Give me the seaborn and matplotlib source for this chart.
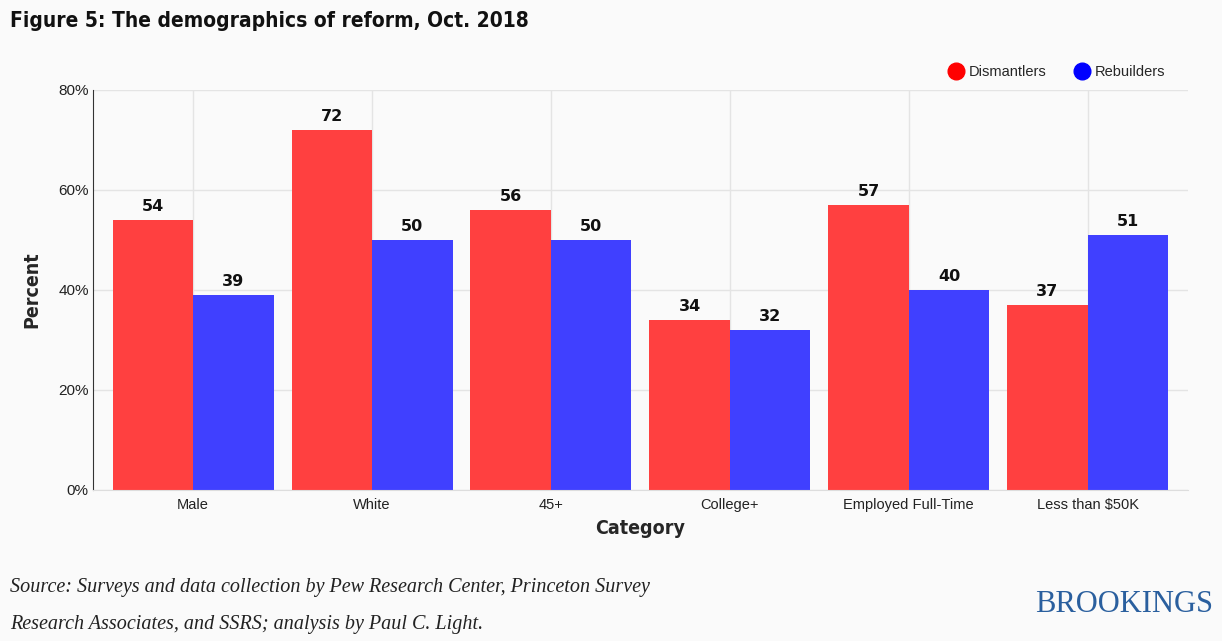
import pandas as pd
import seaborn as sns
import matplotlib.pyplot as plt
from matplotlib.lines import Line2D

#Chart data
categories = ["Male", "White", "45+", "College+", "Employed Full-Time", "Less than $50K"]
dismantlers = [54, 72, 56, 34, 57, 37]
rebuilders = [39, 50, 50, 32, 40, 51]

#Long form table for seaborn
data = pd.DataFrame({
    "Category": categories * 2,
    "Percent": dismantlers + rebuilders,
    "Group": ["Dismantlers"] * len(categories) + ["Rebuilders"] * len(categories),
})

bg = "#fafafa"
sns.set_style("white")
plt.rcParams['font.family'] = ['Liberation Sans', 'DejaVu Sans']

fig = plt.figure(figsize=(12.22, 6.41), dpi=100, facecolor=bg)
ax = fig.add_axes([0.0761, 0.2356, 0.8959, 0.624])
ax.set_facecolor(bg)

sns.barplot(x="Category", y="Percent", hue="Group", data=data, ax=ax,
            palette={"Dismantlers": "#ff4040", "Rebuilders": "#4040ff"},
            width=0.9, gap=0, saturation=1, linewidth=0, legend=False)

#Value labels on top of each bar
for container in ax.containers:
    ax.bar_label(container, fmt="%d", padding=4, fontsize=11.5, fontweight="bold",
                 family="DejaVu Sans", color="#111111")

ax.set_ylim(0, 80)
ax.set_xlim(-0.56, 5.56)
ax.set_yticks([0, 20, 40, 60, 80])
ax.set_yticklabels(["0%", "20%", "40%", "60%", "80%"], fontsize=11, color="#222222")
ax.tick_params(axis="x", labelsize=10.5, colors="#222222", length=0, pad=6)
ax.tick_params(axis="y", length=2, color="#333333", pad=1)
ax.grid(True, color="#e4e4e4", linewidth=1)
ax.set_axisbelow(True)
for side in ["top", "right"]:
    ax.spines[side].set_visible(False)
ax.spines["left"].set_color("#333333")
ax.spines["bottom"].set_color("#dddddd")

ax.set_xlabel("Category", fontsize=14, fontweight="bold", family="DejaVu Sans",
              fontstretch="condensed", labelpad=5)
ax.set_ylabel("Percent", fontsize=14, fontweight="bold", family="DejaVu Sans",
              fontstretch="condensed", labelpad=12)

#Legend with round markers
handles = [Line2D([], [], marker="o", linestyle="", markersize=12, color="#ff0000"),
           Line2D([], [], marker="o", linestyle="", markersize=12, color="#0000ff")]
fig.legend(handles, ["Dismantlers", "Rebuilders"], loc="center", bbox_to_anchor=(0.862, 0.888),
           ncol=2, frameon=False, fontsize=10.5, handletextpad=-0.1, columnspacing=1.4)

#Title, source and logo
fig.text(0.008, 0.968, "Figure 5: The demographics of reform, Oct. 2018", fontsize=15,
         fontweight="bold", family="DejaVu Sans", fontstretch="condensed", va="center",
         color="#111111")
fig.text(0.008, 0.084, "Source: Surveys and data collection by Pew Research Center, Princeton Survey",
         fontsize=14.5, style="italic", family="Liberation Serif", va="center", color="#222222")
fig.text(0.008, 0.025, "Research Associates, and SSRS; analysis by Paul C. Light.",
         fontsize=14.5, style="italic", family="Liberation Serif", va="center", color="#222222")
fig.text(0.993, 0.057, "BROOKINGS", fontsize=22, family="Liberation Serif", ha="right",
         va="center", color="#2a5f9e")

fig.savefig("out.png", dpi=100, facecolor=bg)
